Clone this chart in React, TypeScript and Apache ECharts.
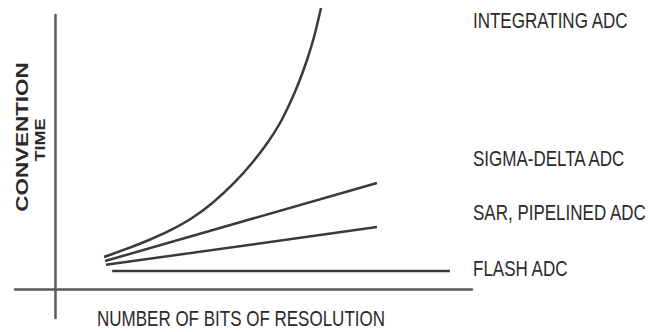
import React, { useEffect, useRef } from "react";
import * as echarts from "echarts";

// Curves (x: bits of resolution, y: conversion time, arbitrary units)
const integratingX = [1.175, 1.679, 2.254, 2.758, 3.285, 3.789, 4.293, 4.724, 5.108, 5.396, 5.635, 5.851, 6.043, 6.211, 6.379];
const integratingY = [1.168, 1.442, 1.788, 2.135, 2.591, 3.157, 3.869, 4.599, 5.365, 6.058, 6.788, 7.555, 8.358, 9.197, 10.255];
const sigmaDeltaX = [1.2, 7.72];
const sigmaDeltaY = [1.02, 3.87];
const sarX = [1.22, 7.72];
const sarY = [0.88, 2.26];
const flashX = [1.37, 9.47];
const flashY = [0.66, 0.66];

const seriesNames = ["INTEGRATING ADC", "SIGMA-DELTA ADC", "SAR, PIPELINED ADC", "FLASH ADC"];
const xTitle = "NUMBER OF BITS OF RESOLUTION";
const yTitleLines = ["CONVENTION", "TIME"];

const zip = (xs: number[], ys: number[]) => xs.map((x, i) => [x, ys[i]]);

export default function App() {
  const ref = useRef<HTMLDivElement>(null);
  useEffect(() => {
    document.body.style.margin = "0";
    const chart = echarts.init(ref.current!, null, { renderer: "svg" });
    const lineColor = "#3a3a3a";
    const axisColor = "#5a5a5a";
    const font = "'Liberation Sans', Arial, sans-serif";
    const mk = (name: string, data: number[][], smooth: boolean) => ({
      name,
      type: "line",
      data,
      smooth: smooth ? 0.3 : false,
      showSymbol: false,
      clip: false,
      lineStyle: { color: lineColor, width: 2.5 },
      emphasis: { disabled: true },
    });
    const labelYs = [21, 159, 213, 268.5];
    chart.setOption({
      animation: false,
      backgroundColor: "#ffffff",
      grid: { left: 15, right: 189, top: 15, bottom: 14, containLabel: false },
      xAxis: {
        type: "value",
        min: -0.96,
        max: 10,
        axisLine: { show: true, onZero: true, lineStyle: { color: axisColor, width: 2.5 } },
        axisTick: { show: false },
        axisLabel: { show: false },
        splitLine: { show: false },
      },
      yAxis: {
        type: "value",
        min: -1.06,
        max: 10,
        axisLine: { show: true, onZero: true, lineStyle: { color: axisColor, width: 2.5 } },
        axisTick: { show: false },
        axisLabel: { show: false },
        splitLine: { show: false },
      },
      series: [
        mk(seriesNames[0], zip(integratingX, integratingY), true),
        mk(seriesNames[1], zip(sigmaDeltaX, sigmaDeltaY), false),
        mk(seriesNames[2], zip(sarX, sarY), false),
        mk(seriesNames[3], zip(flashX, flashY), false),
      ],
      graphic: [
        ...seriesNames.map((n, i) => ({
          type: "text",
          x: 473,
          y: labelYs[i],
          scaleY: 1.25,
          style: {
            text: n,
            fill: "#2a2a2a",
            font: `17px ${font}`,
            align: "left",
            verticalAlign: "middle",
          },
        })),
        {
          type: "text",
          x: 241,
          y: 319,
          scaleY: 1.25,
          style: {
            text: xTitle,
            fill: "#2a2a2a",
            font: `17px ${font}`,
            align: "center",
            verticalAlign: "middle",
          },
        },
        {
          type: "text",
          x: 22,
          y: 137,
          rotation: Math.PI / 2,
          scaleX: 1.32,
          style: {
            text: yTitleLines[0],
            fill: "#2a2a2a",
            font: `bold 17px ${font}`,
            align: "center",
            verticalAlign: "middle",
          },
        },
        {
          type: "text",
          x: 40,
          y: 140,
          rotation: Math.PI / 2,
          scaleX: 1.2,
          style: {
            text: yTitleLines[1],
            fill: "#2a2a2a",
            font: `bold 15px ${font}`,
            align: "center",
            verticalAlign: "middle",
          },
        },
      ],
    });
    return () => chart.dispose();
  }, []);
  return <div ref={ref} style={{ width: 661, height: 332 }} />;
}
